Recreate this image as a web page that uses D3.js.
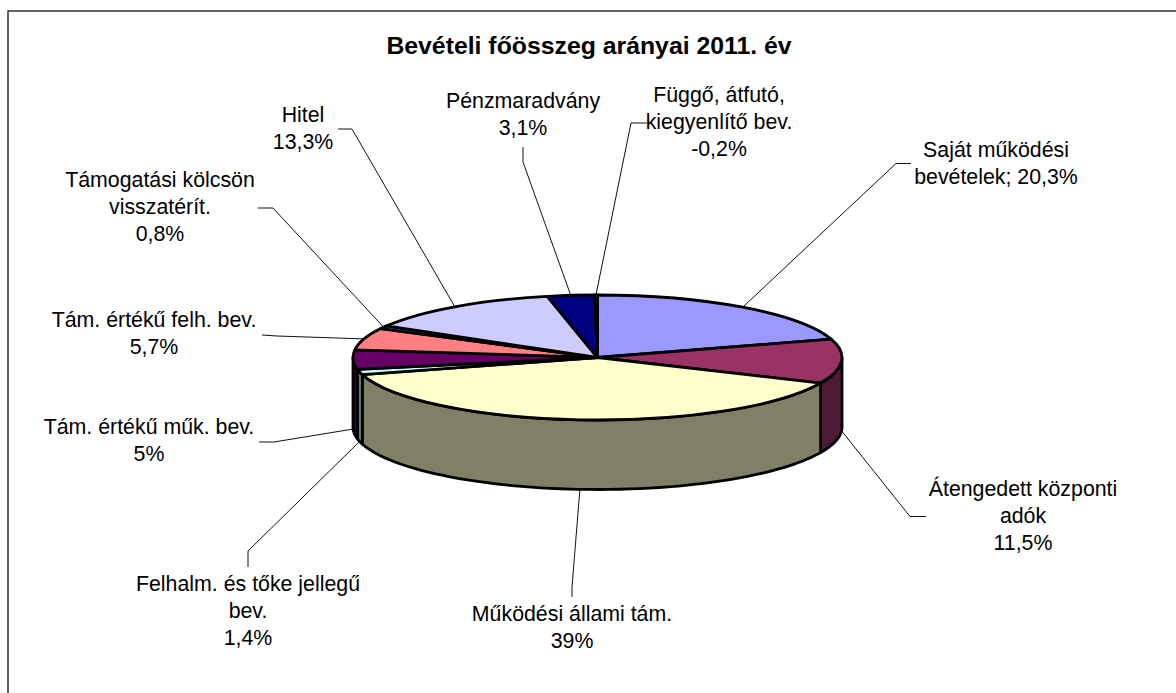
<!DOCTYPE html>
<html lang="hu">
<head>
<meta charset="utf-8">
<title>Bevételi főösszeg arányai 2011. év</title>
<script src="https://cdn.jsdelivr.net/npm/d3@7/dist/d3.min.js"></script>
<style>
  html, body { margin: 0; padding: 0; background: #fff; overflow: hidden; }
  svg { display: block; }
  text { font-family: "Liberation Sans", Arial, sans-serif; fill: #000; }
</style>
</head>
<body>
<svg id="chart" width="1176" height="693"></svg>
<script>
// ---- data ----
const chartTitle = "Bevételi főösszeg arányai 2011. év";
const categories = ["Saját működési bevételek", "Átengedett központi adók", "Működési állami tám.",
  "Felhalm. és tőke jellegű bev.", "Tám. értékű műk. bev.", "Tám. értékű felh. bev.",
  "Támogatási kölcsön visszatérít.", "Hitel", "Pénzmaradvány", "Függő, átfutó, kiegyenlítő bev."];
const shares = [20.3, 11.5, 39, 1.4, 5, 5.7, 0.8, 13.3, 3.1, -0.2];
const sliceColours = ["#9999FF", "#993366", "#FFFFCC", "#CCFFFF", "#660066", "#FF8080", "#0066CC", "#CCCCFF", "#000080", "#FF00FF"];
const labelLines = [
  ["Saját működési", "bevételek; 20,3%"],
  ["Átengedett központi", "adók", "11,5%"],
  ["Működési állami tám.", "39%"],
  ["Felhalm. és tőke jellegű", "bev.", "1,4%"],
  ["Tám. értékű műk. bev.", "5%"],
  ["Tám. értékű felh. bev.", "5,7%"],
  ["Támogatási kölcsön", "visszatérít.", "0,8%"],
  ["Hitel", "13,3%"],
  ["Pénzmaradvány", "3,1%"],
  ["Függő, átfutó,", "kiegyenlítő bev.", "-0,2%"]
];

// ---- layout ----
const W = 1176, H = 693;
const pieLayout = { cx: 597.5, cy: 357.5, rx: 244.5, ry: 62.5, depth: 69.5 };
const fontSize = 21.33, titleSize = 24.8, lineHeight = 27;
const labelLayout = [
  { x: 996,  y: 157, elbow: [896, 163.5], end: [911, 163.5] },
  { x: 1023, y: 496, elbow: [910, 516.5], end: [926, 516.5] },
  { x: 572,  y: 621, elbow: [572, 587],   end: [572, 597] },
  { x: 248,  y: 591, elbow: [248, 551],   end: [248, 567] },
  { x: 149,  y: 434, elbow: [274, 442],   end: [259, 442] },
  { x: 154,  y: 327, elbow: [277, 336],   end: [262, 335] },
  { x: 160,  y: 187, elbow: [273, 208],   end: [258, 208] },
  { x: 303,  y: 122, elbow: [352, 129],   end: [338, 129] },
  { x: 523,  y: 108, elbow: [523, 162],   end: [523, 147] },
  { x: 719,  y: 102, elbow: [631, 123],   end: [647, 123] }
];

// ---- chart ----
const svg = d3.select("#chart");
const { cx, cy, rx, ry, depth } = pieLayout;
const colour = d3.scaleOrdinal().domain(categories).range(sliceColours);
const side = c => { const k = d3.rgb(c); return d3.rgb(k.r * 0.5, k.g * 0.5, k.b * 0.5).formatHex(); };

// Frame runs off the right and bottom of the picture
svg.append("rect").attr("x", 8).attr("y", 11).attr("width", W).attr("height", H)
  .attr("fill", "#fff").attr("stroke", "#222").attr("stroke-width", 1.4);

svg.append("text").attr("x", 589).attr("y", 54).attr("text-anchor", "middle")
  .attr("font-size", titleSize).attr("font-weight", "bold").text(chartTitle);

// Negative item takes up its absolute share of the circle, as in the source chart
const pie = d3.pie().sort(null).value((d, i) => Math.abs(shares[i]));
const arcs = pie(categories);
const rimPoint = (a, dy) => [cx + rx * Math.sin(a), cy - ry * Math.cos(a) + dy];
const midAngle = d => (d.startAngle + d.endAngle) / 2;
const isFront = a => a > Math.PI / 2 && a < 3 * Math.PI / 2;

// Leader lines, beneath the pie
const leader = d3.line();
svg.append("g").selectAll("path").data(arcs).join("path")
  .attr("d", (d, i) => {
    const a = midAngle(d);
    return leader([rimPoint(a, isFront(a) ? depth : 0), labelLayout[i].elbow, labelLayout[i].end]);
  })
  .attr("fill", "none").attr("stroke", "#111").attr("stroke-width", 1);

// Side walls: only the part of each slice facing the viewer
const wall = d3.line();
const wallPath = d => {
  const a0 = Math.max(d.startAngle, Math.PI / 2), a1 = Math.min(d.endAngle, 3 * Math.PI / 2);
  const steps = d3.range(0, 61).map(k => a0 + (a1 - a0) * k / 60);
  return wall(steps.map(a => rimPoint(a, 0)).concat(steps.slice().reverse().map(a => rimPoint(a, depth)))) + "Z";
};
svg.append("g").selectAll("path")
  .data(arcs.filter(d => d.endAngle > Math.PI / 2 && d.startAngle < 3 * Math.PI / 2))
  .join("path").attr("d", wallPath)
  .attr("fill", d => side(colour(d.data)))
  .attr("stroke", "#000").attr("stroke-width", 2.8).attr("stroke-linejoin", "round");

// Top faces
const arc = d3.arc().innerRadius(0).outerRadius(rx);
svg.append("g").attr("transform", `translate(${cx},${cy}) scale(1,${ry / rx})`)
  .selectAll("path").data(arcs).join("path")
  .attr("d", arc)
  .attr("fill", d => colour(d.data))
  .attr("stroke", "#000").attr("stroke-width", 2.8).attr("stroke-linejoin", "round")
  .attr("vector-effect", "non-scaling-stroke");

// Labels
const labels = svg.append("g").attr("font-size", fontSize).attr("text-anchor", "middle")
  .selectAll("text").data(labelLines).join("text")
  .attr("transform", (d, i) => `translate(${labelLayout[i].x},${labelLayout[i].y})`);
labels.selectAll("tspan").data(d => d).join("tspan")
  .attr("x", 0).attr("y", (d, i) => i * lineHeight).text(d => d);
</script>
</body>
</html>
